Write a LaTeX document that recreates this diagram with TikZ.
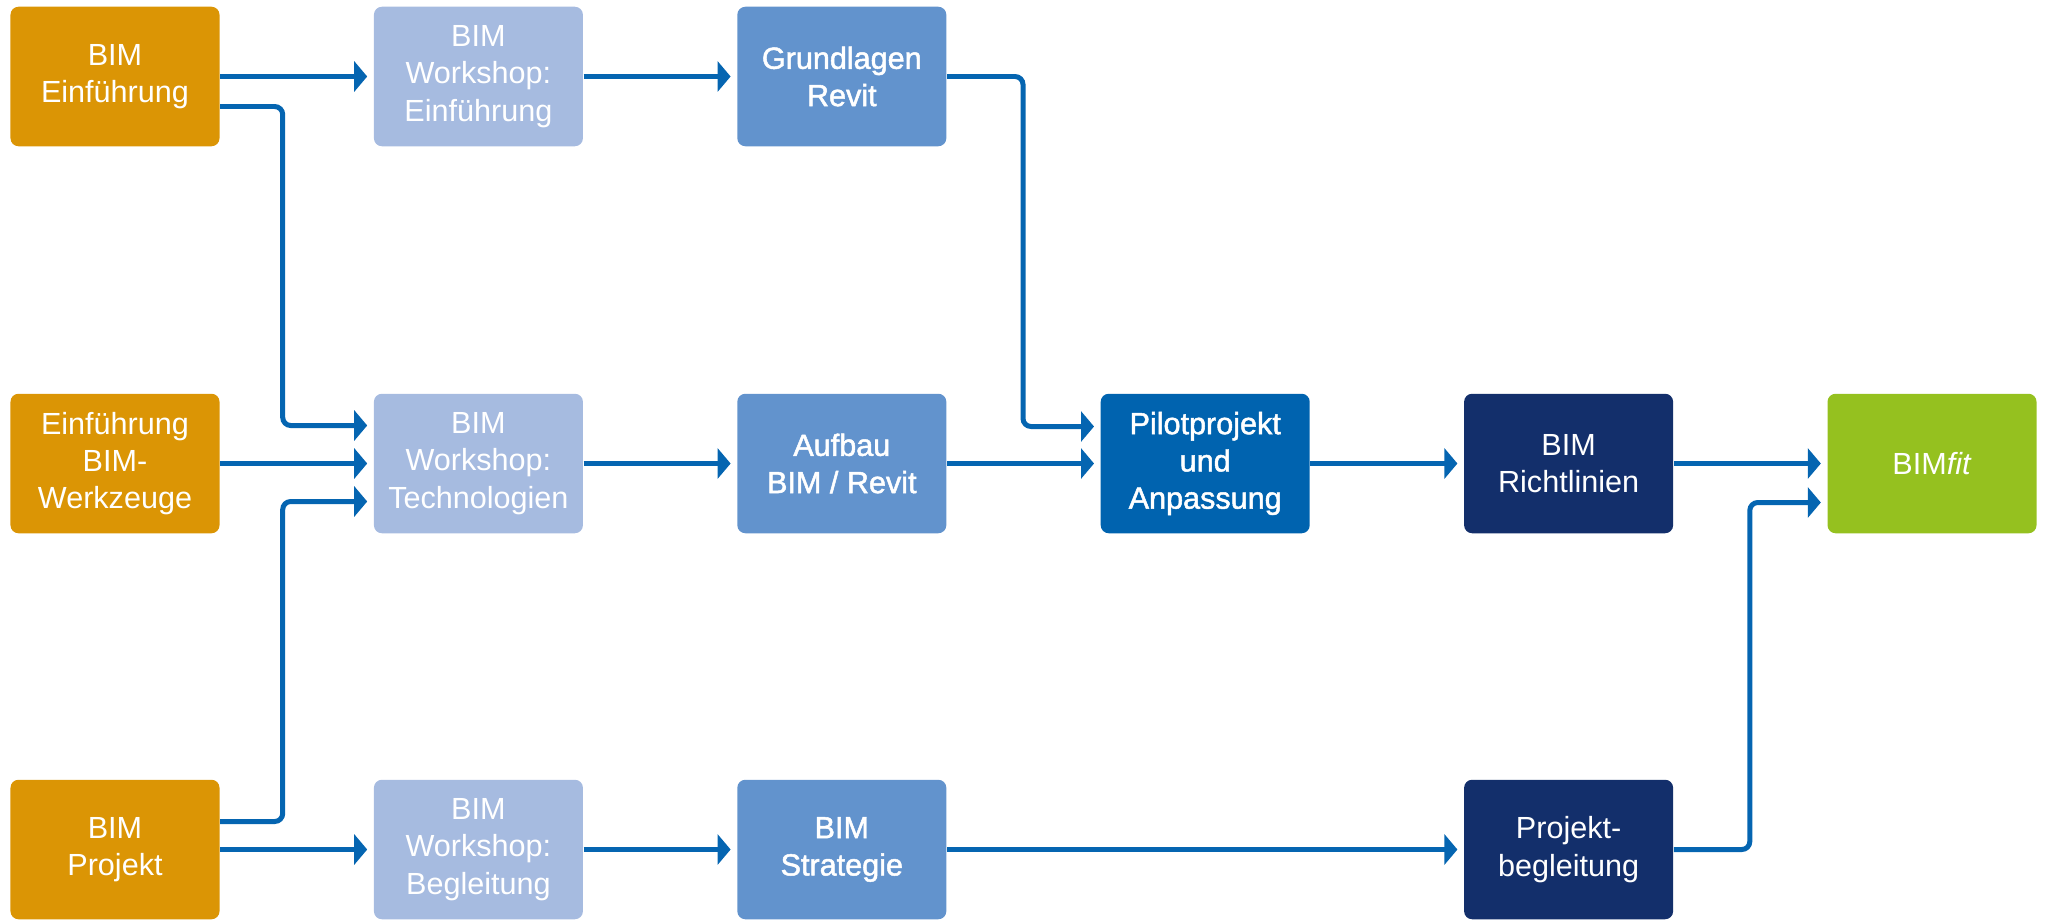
\documentclass[tikz,border=0pt]{standalone}
\usepackage{fontspec}
\setmainfont{Liberation Sans}
\newfontfamily\mediumfont[FakeBold=1.6]{Liberation Sans}
\usetikzlibrary{arrows.meta}
\definecolor{bimorange}{HTML}{DB9505}
\definecolor{wslight}{HTML}{A6BBE0}
\definecolor{revitblue}{HTML}{6293CD}
\definecolor{pilotblue}{HTML}{0063AF}
\definecolor{navy}{HTML}{132F6B}
\definecolor{fitgreen}{HTML}{95C11F}
\definecolor{flowblue}{HTML}{0565B1}
\begin{document}
\begin{tikzpicture}[
  box/.style={rectangle,rounded corners=0.8mm,minimum width=2.09cm,minimum height=1.395cm,
    inner sep=0pt,text=white,align=center,font=\fontsize{8.7}{10.6}\selectfont},
  start/.style={box,fill=bimorange},
  workshop/.style={box,fill=wslight},
  course/.style={box,fill=revitblue,font=\fontsize{8.7}{10.6}\selectfont\mediumfont},
  pilot/.style={box,fill=pilotblue,font=\fontsize{8.7}{10.6}\selectfont\mediumfont},
  guide/.style={box,fill=navy},
  goal/.style={box,fill=fitgreen},
  flow/.style={draw=flowblue,line width=1.42pt,rounded corners=0.8mm,
    -{Triangle[length=1.3mm,width=3mm]},shorten >=0.6mm}
]
\useasboundingbox (0,0) rectangle (20.45,9.2);
%start column
\node[start] (e1) at (1.15,8.435) {BIM\\Einführung};
\node[start] (e2) at (1.15,4.565) {Einführung\\BIM-\\Werkzeuge};
\node[start] (e3) at (1.15,0.705) {BIM\\Projekt};
%workshops
\node[workshop] (w1) at (4.784,8.435) {BIM\\Workshop:\\Einführung};
\node[workshop] (w2) at (4.784,4.565) {BIM\\Workshop:\\Technologien};
\node[workshop] (w3) at (4.784,0.705) {BIM\\Workshop:\\Begleitung};
%courses
\node[course] (g1) at (8.418,8.435) {Grundlagen\\Revit};
\node[course] (a2) at (8.418,4.565) {Aufbau\\BIM / Revit};
\node[course] (s3) at (8.418,0.705) {BIM\\Strategie};
%pilot and guidelines
\node[pilot] (pi) at (12.052,4.565) {Pilotprojekt\\und\\Anpassung};
\node[guide] (ri) at (15.686,4.565) {BIM\\Richtlinien};
\node[guide] (pb) at (15.686,0.705) {Projekt-\\begleitung};
\node[goal] (fit) at (19.32,4.565) {BIM\textit{fit}};
%straight arrows
\draw[flow] (e1) -- (w1);
\draw[flow] (e2) -- (w2);
\draw[flow] (e3) -- (w3);
\draw[flow] (w1) -- (g1);
\draw[flow] (w2) -- (a2);
\draw[flow] (w3) -- (s3);
\draw[flow] (a2) -- (pi);
\draw[flow] (pi) -- (ri);
\draw[flow] (ri) -- (fit);
\draw[flow] (s3) -- (pb);
%bent arrows
\draw[flow] ([yshift=-3mm]e1.east) -- ++(0.625,0) |- ([yshift=3.8mm]w2.west);
\draw[flow] ([yshift=2.8mm]e3.east) -- ++(0.625,0) |- ([yshift=-3.8mm]w2.west);
\draw[flow] (g1.east) -- ++(0.76,0) |- ([yshift=3.7mm]pi.west);
\draw[flow] (pb.east) -- ++(0.76,0) |- ([yshift=-3.9mm]fit.west);
\end{tikzpicture}
\end{document}
